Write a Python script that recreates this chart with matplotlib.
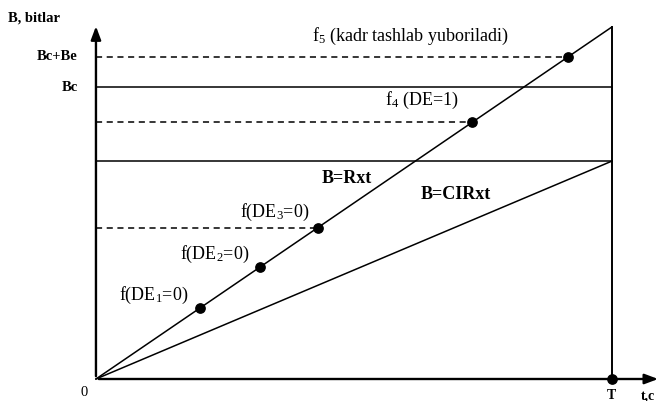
import matplotlib.pyplot as plt
import numpy as np

# data (t in units of T, B in units of R*T)
T = 1.0
R = 1.0
CIR = 0.619
Bc = 0.830
Be = 0.088
dot_t = [0.202, 0.318, 0.430, 0.729, 0.915]
dot_labels = ['f(DE$_1$=0)', 'f(DE$_2$=0)', 'f(DE$_3$=0)']
dashed_idx = [2, 3, 4]

plt.rcParams['font.family'] = ['Liberation Serif', 'DejaVu Serif']
plt.rcParams['mathtext.fontset'] = 'custom'
plt.rcParams['mathtext.rm'] = 'Liberation Serif'
plt.rcParams['mathtext.it'] = 'Liberation Serif:italic'
plt.rcParams['mathtext.bf'] = 'Liberation Serif:bold'

fig = plt.figure(figsize=(6.64, 4.02), dpi=100)
ax = fig.add_axes([0, 0, 1, 1])
ax.set_xlim(-0.186, 1.101)
ax.set_ylim(-0.0625, 1.0795)
ax.axis('off')

lw = 1.1
# axes with arrows
ax.annotate('', xy=(0, 1.01), xytext=(0, 0),
            arrowprops=dict(arrowstyle='-|>,head_length=0.8,head_width=0.3', color='black', lw=1.7))
ax.annotate('', xy=(1.095, 0), xytext=(0, 0),
            arrowprops=dict(arrowstyle='-|>,head_length=0.8,head_width=0.3', color='black', lw=1.7))

# B = R*t and B = CIR*t
ax.plot([0, T], [0, R * T], color='black', lw=lw)
ax.plot([0, T], [0, CIR * T], color='black', lw=lw)
ax.plot([T, T], [0, R * T], color='black', lw=1.4)

# horizontal levels
ax.plot([0, T], [Bc, Bc], color='black', lw=lw)
ax.plot([0, T], [CIR * T, CIR * T], color='black', lw=lw)
for i in dashed_idx:
    ax.plot([0, dot_t[i]], [R * dot_t[i]] * 2, color='black', lw=lw, ls=(0, (4, 3)))

ax.scatter(dot_t, [R * t for t in dot_t], s=45, color='black', zorder=5)
ax.scatter([T], [0], s=45, color='black', zorder=5, clip_on=False)

fs = 13
ax.text(-0.170, 1.028, 'B, bitlar', fontsize=10.5, fontweight='bold', ha='left', va='center')
ax.text(-0.035, Bc + Be, 'Bc+Be', fontsize=10.5, fontweight='bold', ha='right', va='center')
ax.text(-0.035, Bc, 'Bc', fontsize=10.5, fontweight='bold', ha='right', va='center')
ax.text(-0.023, -0.035, '0', fontsize=10.5, ha='center', va='center')
ax.text(T, -0.045, 'T', fontsize=10, fontweight='bold', ha='center', va='center')
ax.text(1.070, -0.045, 't,c', fontsize=10, fontweight='bold', ha='center', va='center')

ax.text(0.610, 0.977, 'f$_5$ (kadr tashlab yuboriladi)', fontsize=fs, ha='center', va='center')
ax.text(0.632, 0.795, 'f$_4$ (DE=1)', fontsize=fs, ha='center', va='center')
ax.text(0.486, 0.573, 'B=Rxt', fontsize=fs, fontweight='bold', ha='center', va='center')
ax.text(0.698, 0.528, 'B=CIRxt', fontsize=fs, fontweight='bold', ha='center', va='center')
label_x = [0.111, 0.231, 0.347]
label_y = [0.241, 0.358, 0.477]
for x, y, s in zip(label_x, label_y, dot_labels):
    ax.text(x, y, s, fontsize=fs, ha='center', va='center')

fig.savefig('out.png', dpi=100)
